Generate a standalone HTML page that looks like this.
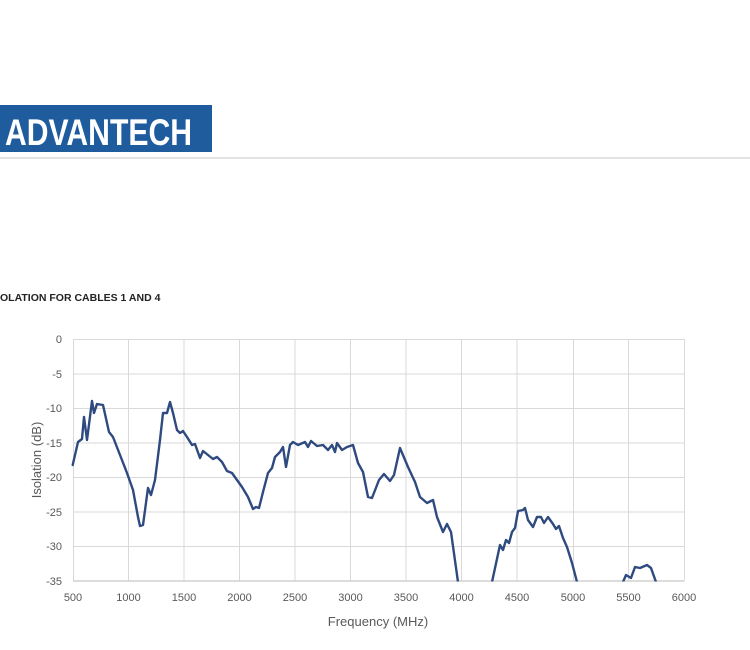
<!DOCTYPE html>
<html><head><meta charset="utf-8"><style>
html,body{margin:0;padding:0;background:#fff;width:750px;height:650px;overflow:hidden}
</style></head><body>
<svg width="750" height="650" xmlns="http://www.w3.org/2000/svg" font-family="Liberation Sans, sans-serif">
<rect x="0" y="105" width="212" height="47" fill="#1f5c9e"/>
<text x="5" y="145" fill="#fff" font-size="37" font-weight="bold" textLength="187" lengthAdjust="spacingAndGlyphs">ADVANTECH</text>
<rect x="0" y="157" width="750" height="2" fill="#e3e3e3"/>
<text x="0" y="301" font-size="10.5" font-weight="bold" fill="#222">OLATION FOR CABLES 1 AND 4</text>
<g stroke="#d9d9d9" stroke-width="1">
<line x1="73" y1="339.5" x2="684" y2="339.5"/>
<line x1="73" y1="374" x2="684" y2="374"/>
<line x1="73" y1="408.5" x2="684" y2="408.5"/>
<line x1="73" y1="443" x2="684" y2="443"/>
<line x1="73" y1="477.5" x2="684" y2="477.5"/>
<line x1="73" y1="512" x2="684" y2="512"/>
<line x1="73" y1="546.5" x2="684" y2="546.5"/>
<line x1="73.5" y1="339" x2="73.5" y2="581"/>
<line x1="128.5" y1="339" x2="128.5" y2="581"/>
<line x1="239.5" y1="339" x2="239.5" y2="581"/>
<line x1="350.5" y1="339" x2="350.5" y2="581"/>
<line x1="461.5" y1="339" x2="461.5" y2="581"/>
<line x1="573.5" y1="339" x2="573.5" y2="581"/>
<line x1="684.5" y1="339" x2="684.5" y2="581"/>
<line x1="184" y1="339" x2="184" y2="581"/>
<line x1="295" y1="339" x2="295" y2="581"/>
<line x1="406" y1="339" x2="406" y2="581"/>
<line x1="517" y1="339" x2="517" y2="581"/>
<line x1="628.5" y1="339" x2="628.5" y2="581"/>
</g>
<line x1="73" y1="581" x2="684" y2="581" stroke="#c8c8c8" stroke-width="1.2"/>
<clipPath id="c"><rect x="60" y="330" width="630" height="251.5"/></clipPath>
<g clip-path="url(#c)" fill="none" stroke="#2e4a7f" stroke-width="2.4" stroke-linejoin="round" stroke-linecap="round">
<polyline points="72.7,465 78,442 82,439 84,417 87,440 92,401 94,413 97,404 103,405 109,432 113,437 127,473 133,490 138,517 140,526 143,525 148,488 151,495 155,480 160,440 163,413 167,413 170,402 173,413 177,430 180,433 183,431 187,437 192,445 195,444 200,458 203,451 208,455 213,459 217,457 222,462 227,471 232,473 242,487 248,497 253,509 256,507 259,508 263,492 268,473 272,468 275,457 280,452 283,447 286,467 290,445 293,442 298,445 305,442 308,447 311,441 317,446 323,445 328,450 332,445 335,452 337,443 342,450 347,447 353,445 358,463 363,472 368,497 372,498 379,480 384,474 390,481 394,475 400,448 408,467 415,482 420,497 427,503 433,500 437,517 443,532 447,524 451,532 458,582"/>
<polyline points="492,582 500,545 503,550 506,540 509,543 512,532 515,528 518,511 523,510 525,508 528,520 533,527 537,517 541,517 544,523 548,517 553,524 556,529 559,526 563,538 567,547 572,563 577,582"/>
<polyline points="623,582 626,575 631,578 635,567 640,568 647,565 651,568 656,582"/>
</g>
<g font-size="11" fill="#595959" text-anchor="end">
<text x="62" y="343">0</text><text x="62" y="378">-5</text><text x="62" y="412">-10</text><text x="62" y="447">-15</text><text x="62" y="481">-20</text><text x="62" y="516">-25</text><text x="62" y="550">-30</text><text x="62" y="585">-35</text>
</g>
<g font-size="11" fill="#595959" text-anchor="middle">
<text x="73" y="601">500</text><text x="128.5" y="601">1000</text><text x="184" y="601">1500</text><text x="239.5" y="601">2000</text><text x="295" y="601">2500</text><text x="350.5" y="601">3000</text><text x="406" y="601">3500</text><text x="461.5" y="601">4000</text><text x="517" y="601">4500</text><text x="573" y="601">5000</text><text x="628.5" y="601">5500</text><text x="684" y="601">6000</text>
</g>
<text x="378" y="626" font-size="13" fill="#595959" text-anchor="middle">Frequency (MHz)</text>
<text transform="translate(41,460) rotate(-90)" font-size="13" fill="#595959" text-anchor="middle">Isolation (dB)</text>
</svg>
</body></html>
